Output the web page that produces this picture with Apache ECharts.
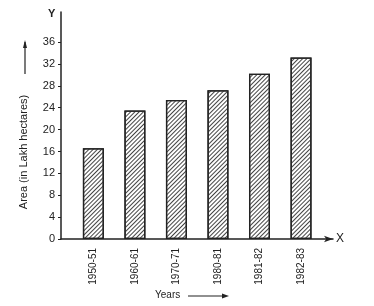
<!DOCTYPE html>
<html><head><meta charset="utf-8">
<script src="https://cdn.jsdelivr.net/npm/echarts@6/dist/echarts.min.js"></script>
<style>html,body{margin:0;padding:0;background:#fff}#c{width:374px;height:306px}</style>
</head><body><div id="c"></div>
<script>
var categories = ['1950-51','1960-61','1970-71','1980-81','1981-82','1982-83'];
var areaValues = [16.6, 23.5, 25.4, 27.2, 30.2, 33.2];
var yTicks = [0,4,8,12,16,20,24,28,32,36];

var chart = echarts.init(document.getElementById('c'));
var font = 'Liberation Sans, Arial, sans-serif';
chart.setOption({
  animation:false,
  backgroundColor:'#fff',
  grid:{left:61,right:41,top:12,bottom:67},
  xAxis:{
    type:'value', min:-0.78, max:5.77,
    splitLine:{show:false},
    axisLine:{show:true,onZero:false,lineStyle:{color:'#222',width:1.5},symbol:['none','arrow'],symbolSize:[5,9]},
    axisTick:{show:false},
    axisLabel:{customValues:[0,1,2,3,4,5],rotate:90,margin:9,color:'#222',fontSize:10,fontFamily:font,
      formatter:function(v){return categories[Math.round(v)];}}
  },
  yAxis:{
    type:'value', min:0, max:41.5,
    splitLine:{show:false},
    axisLine:{show:true,onZero:false,lineStyle:{color:'#222',width:1.5}},
    axisTick:{show:true,customValues:yTicks,length:3,lineStyle:{color:'#222'}},
    axisLabel:{customValues:yTicks,color:'#222',fontSize:11,fontFamily:font,margin:6}
  },
  series:[{
    type:'bar',
    barWidth:21,
    data:areaValues.map(function(v,i){return [i,v];}),
    itemStyle:{color:'#fff',borderColor:'#222',borderWidth:1.3,
      decal:{symbol:'rect',color:'#444',dashArrayX:[1,0],dashArrayY:[1,2],rotation:-Math.PI/4}}
  }],
  graphic:[
    {type:'text',x:24,y:152,rotation:Math.PI/2,style:{text:'Area (in Lakh hectares)',fill:'#222',font:'11px '+font,align:'center',verticalAlign:'middle'}},
    {type:'text',left:48,top:8,style:{text:'Y',fill:'#222',font:'bold 11px '+font}},
    {type:'text',left:336,top:233,style:{text:'X',fill:'#222',font:'12px '+font}},
    {type:'text',left:155,top:290,style:{text:'Years',fill:'#222',font:'10px '+font}},
    {type:'line',shape:{x1:188,y1:296,x2:226,y2:296},style:{stroke:'#222',lineWidth:1.2}},
    {type:'polygon',shape:{points:[[229,296],[222,293.5],[222,298.5]]},style:{fill:'#222'}},
    {type:'line',shape:{x1:25,y1:74,x2:25,y2:42},style:{stroke:'#222',lineWidth:1.2}},
    {type:'polygon',shape:{points:[[25,40],[23,48],[27,48]]},style:{fill:'#222'}}
  ]
});
</script></body></html>
